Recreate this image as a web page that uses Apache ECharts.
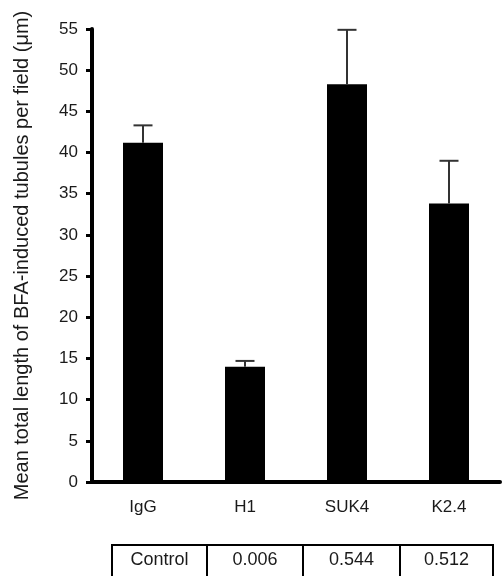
<!DOCTYPE html>
<html>
<head>
<meta charset="utf-8">
<script src="https://cdn.jsdelivr.net/npm/echarts@6/dist/echarts.min.js"></script>
<style>html,body{margin:0;padding:0;background:#fff;}#chart{width:503px;height:576px;}</style>
</head>
<body>
<div id="chart"></div>
<script>
const categories = ['IgG', 'H1', 'SUK4', 'K2.4'];
const meanValues = [41.2, 14.0, 48.3, 33.8];
const errorValues = [2.1, 0.7, 6.6, 5.2];
const yTicks = [0, 5, 10, 15, 20, 25, 30, 35, 40, 45, 50, 55];
const tableLabels = ['Control', '0.006', '0.544', '0.512'];

const FONT = 'Liberation Sans, Arial, sans-serif';
const chart = echarts.init(document.getElementById('chart'));

// table cells (layout only)
const cellEdges = [112, 207, 303, 400, 493];
const tableTop = 545;
const graphics = [];
tableLabels.forEach((t, i) => {
  const x0 = cellEdges[i], x1 = cellEdges[i + 1];
  graphics.push({
    type: 'rect', shape: {x: x0, y: tableTop, width: x1 - x0, height: 40},
    style: {fill: 'none', stroke: '#000', lineWidth: 2}
  });
  graphics.push({
    type: 'text', x: (x0 + x1) / 2, y: 560,
    style: {text: t, font: '18px ' + FONT, fill: '#1a1a1a', textAlign: 'center', textVerticalAlign: 'middle'}
  });
});

chart.setOption({
  animation: false,
  backgroundColor: '#fff',
  grid: {left: 92, right: 3, top: 29, bottom: 94},
  xAxis: {
    type: 'category',
    data: categories,
    axisLine: {lineStyle: {color: '#000', width: 4}},
    axisTick: {show: false},
    axisLabel: {color: '#1a1a1a', fontFamily: FONT, fontSize: 17, margin: 17}
  },
  yAxis: {
    type: 'value',
    min: yTicks[0], max: yTicks[yTicks.length - 1], interval: 5,
    name: 'Mean total length of BFA-induced tubules per field (μm)',
    nameLocation: 'middle', nameGap: 60, nameRotate: 90,
    nameTextStyle: {color: '#1a1a1a', fontFamily: FONT, fontSize: 20},
    axisLine: {show: true, lineStyle: {color: '#000', width: 4}},
    axisTick: {show: true, length: 6, lineStyle: {color: '#000', width: 3}},
    axisLabel: {color: '#1a1a1a', fontFamily: FONT, fontSize: 17, margin: 14},
    splitLine: {show: false}
  },
  series: [
    {
      type: 'bar',
      data: meanValues,
      barWidth: 40,
      itemStyle: {color: '#000'}
    },
    {
      type: 'custom',
      data: meanValues.map((v, i) => [i, v, v + errorValues[i]]),
      renderItem: function (params, api) {
        const base = api.coord([api.value(0), api.value(1)]);
        const top = api.coord([api.value(0), api.value(2)]);
        const hw = 9.5;
        return {
          type: 'group',
          children: [
            {type: 'line', shape: {x1: base[0], y1: base[1], x2: top[0], y2: top[1]}, style: {stroke: '#333', lineWidth: 2}},
            {type: 'line', shape: {x1: top[0] - hw, y1: top[1], x2: top[0] + hw, y2: top[1]}, style: {stroke: '#333', lineWidth: 2}}
          ]
        };
      },
      z: 3
    }
  ],
  graphic: graphics
});
</script>
</body>
</html>
